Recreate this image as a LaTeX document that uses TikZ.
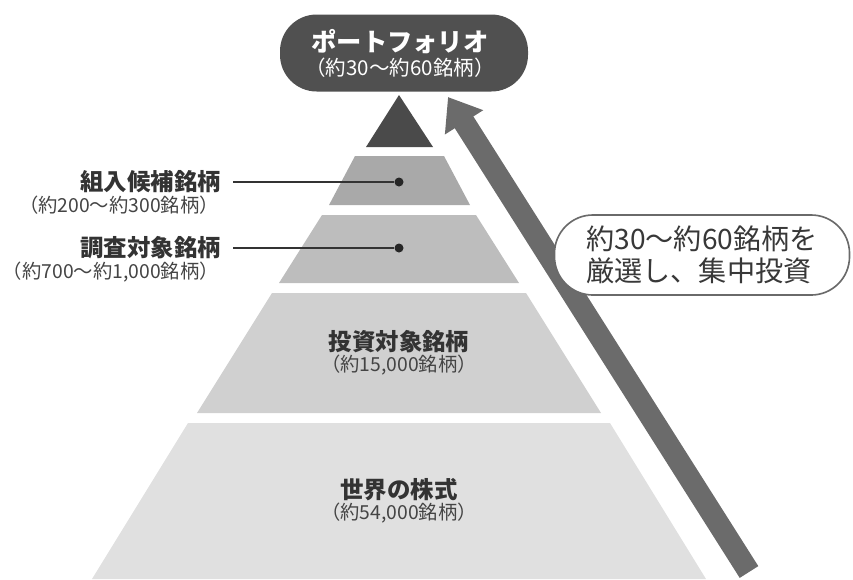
\documentclass[tikz,border=0pt]{standalone}
\usepackage{fontspec}
\setmainfont{Noto Sans CJK JP}
\usetikzlibrary{arrows.meta, positioning}

\definecolor{pilldark}{HTML}{505050}
\definecolor{tiertop}{HTML}{4A4A4A}
\definecolor{tiertwo}{HTML}{A9A9A9}
\definecolor{tierthree}{HTML}{BDBDBD}
\definecolor{tierfour}{HTML}{D0D0D0}
\definecolor{tierfive}{HTML}{E0E0E0}
\definecolor{risegray}{HTML}{6B6B6B}
\definecolor{inkdark}{HTML}{333333}
\definecolor{inksoft}{HTML}{444444}
\definecolor{boxedge}{HTML}{6A6A6A}

\tikzset{
  lbl/.style={font=\bfseries\fontsize{20}{22}\selectfont, text=inkdark, inner sep=0pt, outer xsep=0.36cm},
  sublbl/.style={font=\fontsize{16.5}{18}\selectfont, text=inksoft, inner sep=0pt},
  leader/.style={draw=inkdark, line width=1.2pt},
  pin/.style={circle, fill=black!85, inner sep=0pt, minimum size=0.27cm},
  pill/.style={fill=pilldark, rounded corners=1.1cm, minimum width=7.44cm, minimum height=2.31cm},
  rise/.style={draw=risegray, line width=0.66cm, -{Triangle[length=0.9cm, width=1.3cm]}},
  callout/.style={draw=boxedge, line width=1.4pt, fill=white, rounded corners=1.15cm,
    minimum width=8.85cm, minimum height=2.4cm, align=left, text=black!78,
    font=\fontsize{24}{27}\selectfont}
}

\begin{document}
\begin{tikzpicture}[x=0.03cm, y=-0.03cm]
  \useasboundingbox (0,0) rectangle (853,579);

  % pyramid
  \fill[tiertop] (399,95) -- (433,147) -- (366,147) -- cycle;
  \fill[tiertwo] (355,156) -- (444,156) -- (470,205) -- (329,205) -- cycle;
  \fill[tierthree] (322,215) -- (476,215) -- (519,283) -- (279,283) -- cycle;
  \fill[tierfour] (272,293) -- (526,293) -- (601,413) -- (197,413) -- cycle;
  \fill[tierfive] (188,423) -- (610,423) -- (706,579) -- (92,579) -- cycle;

  % top of the pyramid
  \node[pill] (portfolio) at (404,53) {};
  \node[font=\bfseries\fontsize{21.6}{24}\selectfont, text=white] (pftitle) at (400,42) {ポートフォリオ};
  \node[font=\fontsize{17.5}{19}\selectfont, text=white] (pfsub) at (400,68) {（約30〜約60銘柄）};

  % side labels
  \node[pin] (canddot) at (399,182) {};
  \node[lbl, anchor=east] (cand) at (233,182) {組入候補銘柄};
  \node[sublbl, anchor=east] (candsub) at (219,205) {（約200〜約300銘柄）};
  \draw[leader] (cand.east) -- (canddot);

  \node[pin] (surveydot) at (399,248) {};
  \node[lbl, anchor=east] (survey) at (233,248) {調査対象銘柄};
  \node[sublbl, anchor=east] (surveysub) at (219,272) {（約700〜約1,000銘柄）};
  \draw[leader] (survey.east) -- (surveydot);

  % labels inside
  \node[lbl, outer xsep=0pt] (invest) at (399,342) {投資対象銘柄};
  \node[sublbl] (investsub) at (399,365) {（約15,000銘柄）};
  \node[lbl, outer xsep=0pt] (world) at (399,490) {世界の株式};
  \node[sublbl] (worldsub) at (399,513) {（約54,000銘柄）};

  % arrow and note
  \coordinate (risefoot) at (749,572);
  \coordinate (risetip) at (448,97);
  \draw[rise] (risefoot) -- (risetip);
  \node[callout] (pick) at (702,255) {約30〜約60銘柄を\\厳選し、集中投資};
\end{tikzpicture}
\end{document}
